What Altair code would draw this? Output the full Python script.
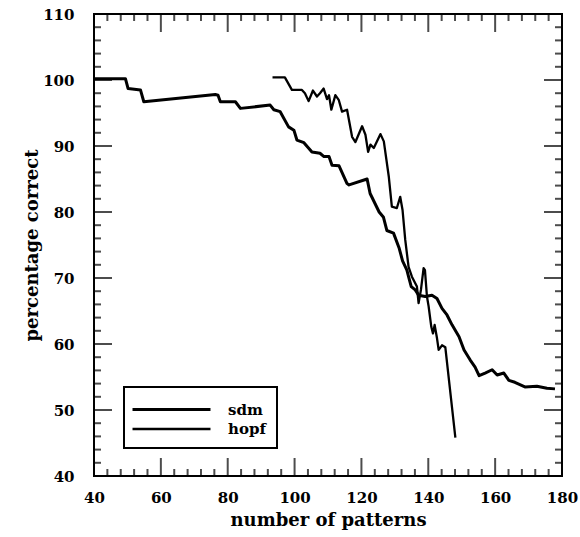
import altair as alt
import pandas as pd

series_names = ["sdm", "hopf"]

sdm_x = [40.0, 49.4, 50.2, 53.9, 54.9, 76.3, 77.1, 77.8, 82.3, 83.8,
         92.7, 93.8, 95.7, 98.2, 99.8, 100.7, 102.8, 105.2, 107.6, 108.8,
         110.3, 111.2, 113.3, 115.7, 116.3, 121.7, 122.6, 125.3, 126.6, 127.6,
         129.6, 131.3, 132.3, 133.6, 134.1, 134.9, 136.1, 137.1, 139.1, 141.1,
         142.6, 144.1, 145.6, 147.1, 149.2, 150.7, 152.5, 154.0, 155.2, 157.0,
         159.1, 160.6, 162.6, 164.1, 165.9, 168.9, 172.5, 175.5, 177.9]
sdm_y = [100.2, 100.2, 98.7, 98.5, 96.7, 97.8, 97.7, 96.7, 96.7, 95.7,
         96.2, 95.5, 95.2, 92.9, 92.4, 90.9, 90.5, 89.1, 88.9, 88.4,
         88.4, 87.1, 87.0, 84.3, 84.1, 85.0, 82.8, 80.0, 79.2, 77.2,
         76.8, 74.5, 72.6, 71.2, 70.2, 68.7, 68.2, 67.4, 67.2, 67.4,
         66.9, 65.4, 64.4, 62.9, 61.1, 59.1, 57.6, 56.5, 55.2, 55.6,
         56.1, 55.3, 55.6, 54.5, 54.2, 53.5, 53.6, 53.3, 53.2]

hopf_x = [93.4, 97.1, 99.2, 102.2, 103.1, 104.2, 105.5, 106.7, 107.6, 108.7,
          109.7, 110.3, 111.0, 112.2, 113.2, 114.2, 115.7, 117.2, 118.2, 120.2,
          121.2, 122.0, 122.7, 123.7, 125.7, 126.7, 128.2, 129.1, 130.6, 131.6,
          132.3, 133.1, 134.1, 135.1, 136.6, 137.1, 137.8, 138.6, 139.0, 139.6,
          140.1, 140.9, 141.4, 141.9, 142.6, 143.1, 144.1, 145.1, 148.1]
hopf_y = [100.4, 100.4, 98.5, 98.5, 98.0, 96.8, 98.4, 97.5, 98.0, 98.7,
          97.1, 97.7, 95.5, 97.7, 97.0, 95.2, 95.5, 91.4, 90.6, 93.0,
          91.7, 89.1, 90.2, 89.7, 91.8, 90.7, 85.3, 80.8, 80.6, 82.3,
          80.3, 75.8, 71.7, 70.2, 68.7, 66.2, 68.2, 71.5, 71.2, 67.2,
          65.7, 62.6, 61.6, 62.9, 60.9, 59.1, 59.8, 59.5, 45.8]

x_major = [40, 60, 80, 100, 120, 140, 160, 180]
x_minor = [44, 48, 52, 56, 64, 68, 72, 76, 84, 88, 92, 96, 104, 108, 112, 116,
           124, 128, 132, 136, 144, 148, 152, 156, 164, 168, 172, 176]
y_major = [40, 50, 60, 70, 80, 90, 100, 110]
y_minor = [42, 44, 46, 48, 52, 54, 56, 58, 62, 64, 66, 68, 72, 74, 76, 78,
           82, 84, 86, 88, 92, 94, 96, 98, 102, 104, 106, 108]

X_MIN, X_MAX = 40, 180
Y_MIN, Y_MAX = 40, 110

W, H = 468, 462
FONT = "DejaVu Serif"
MAJOR_LEN, MINOR_LEN = 18, 7

rows = []
for i, (xv, yv) in enumerate(zip(sdm_x, sdm_y)):
    rows.append({"series": "sdm", "x": xv, "y": yv, "order": i})
for i, (xv, yv) in enumerate(zip(hopf_x, hopf_y)):
    rows.append({"series": "hopf", "x": xv, "y": yv, "order": i})
df = pd.DataFrame(rows)

xs = alt.Scale(domain=[X_MIN, X_MAX], nice=False, zero=False)
ys = alt.Scale(domain=[Y_MIN, Y_MAX], nice=False, zero=False)

x_axis = alt.Axis(
    values=x_major, orient="bottom", ticks=False, domain=False, grid=False,
    labelFont=FONT, labelFontWeight="bold", labelFontSize=15, labelColor="black",
    labelPadding=14, labelFlush=False, labelOverlap=False,
    title="number of patterns", titleFont=FONT, titleFontWeight="bold",
    titleFontSize=18, titleColor="black", titlePadding=6)
y_axis = alt.Axis(
    values=y_major, orient="left", ticks=False, domain=False, grid=False,
    labelFont=FONT, labelFontWeight="bold", labelFontSize=15, labelColor="black",
    labelPadding=20, labelFlush=False, labelOverlap=False,
    title="percentage correct", titleFont=FONT, titleFontWeight="bold",
    titleFontSize=18, titleColor="black", titlePadding=1)

lines = alt.Chart(df).mark_line(color="black", strokeJoin="round").encode(
    x=alt.X("x:Q", scale=xs, axis=x_axis),
    y=alt.Y("y:Q", scale=ys, axis=y_axis),
    detail="series:N",
    order="order:Q",
    strokeWidth=alt.StrokeWidth(
        "series:N",
        scale=alt.Scale(type="point", domain=series_names, range=[3.0, 2.3], padding=0),
        legend=alt.Legend(
            title=None, orient="none", legendX=30, legendY=373,
            strokeColor="black", padding=11, rowPadding=0,
            symbolType="M-4,0H4", symbolSize=380, symbolOffset=25,
            symbolStrokeColor="black",
            labelOffset=45, labelFont=FONT, labelFontWeight="bold",
            labelFontSize=15, labelColor="black")),
)


def x_ticks(vals, at, length, inward):
    # vertical tick marks sitting on the bottom / top frame, pointing inward
    return alt.Chart(pd.DataFrame({"v": vals})).mark_tick(
        orient="vertical", size=length, thickness=2, color="black",
        yOffset=inward * length / 2
    ).encode(
        x=alt.X("v:Q", scale=xs),
        y=alt.YDatum(at, scale=ys),
    )


def y_ticks(vals, at, length, inward):
    # horizontal tick marks sitting on the left / right frame, pointing inward
    return alt.Chart(pd.DataFrame({"v": vals})).mark_tick(
        orient="horizontal", size=length, thickness=2, color="black",
        xOffset=inward * length / 2
    ).encode(
        y=alt.Y("v:Q", scale=ys),
        x=alt.XDatum(at, scale=xs),
    )


tick_layers = [
    x_ticks(x_major, Y_MIN, MAJOR_LEN, -1), x_ticks(x_minor, Y_MIN, MINOR_LEN, -1),
    x_ticks(x_major, Y_MAX, MAJOR_LEN, 1), x_ticks(x_minor, Y_MAX, MINOR_LEN, 1),
    y_ticks(y_major, X_MIN, MAJOR_LEN, 1), y_ticks(y_minor, X_MIN, MINOR_LEN, 1),
    y_ticks(y_major, X_MAX, MAJOR_LEN, -1), y_ticks(y_minor, X_MAX, MINOR_LEN, -1),
]

panel = alt.layer(lines, *tick_layers).properties(width=W, height=H)

# a single-panel concat: the layout that drew the frame ticks correctly in testing
chart = alt.hconcat(panel).properties(
    padding={"left": 22, "top": 6, "right": 0, "bottom": 0},
    background="white",
).configure_view(
    stroke="black", strokeWidth=2
).configure_legend(
    strokeWidth=2
)

chart.save("out.html", embed_options={"renderer": "svg", "actions": False})
